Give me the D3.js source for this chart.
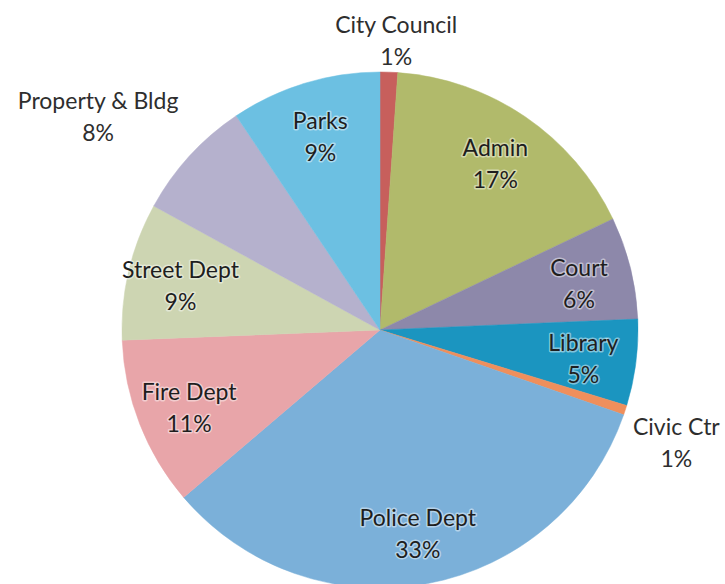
<!DOCTYPE html>
<html>
<head>
<meta charset="utf-8">
<script src="https://cdn.jsdelivr.net/npm/d3@7"></script>
<style>
html,body{margin:0;padding:0;background:#fff;}
svg{display:block;}
text{font-family:Lato,"Open Sans",sans-serif;}
</style>
</head>
<body>
<svg id="chart" width="725" height="584"></svg>
<script>
// slices clockwise from 12 o'clock (percent)
var depts=["City Council","Admin","Court","Library","Civic Ctr","Police Dept","Fire Dept","Street Dept","Property & Bldg","Parks"];
var shares=[1.1,16.8,6.4,5.4,0.6,33.4,10.6,8.6,7.6,9.4];
var colors=["#c75f5c","#b1ba6b","#8d88aa","#1b95c0","#ef8f5c","#7bb0d9","#e8a5a9","#cdd5b2","#b5b1cd","#6cc0e2"];

var W=725,H=584;
var cx=380,cy=330,R=258;
var inR=205;   //label radius for labels inside the pie
// labels Excel pushed outside the pie: radius + nudge in degrees
var outside={"City Council":{r:292,da:1.2},"Civic Ctr":{r:316,da:2.2},"Property & Bldg":{r:355,da:-5}};

var svg=d3.select("#chart");
var g=svg.append("g")
	.attr("transform","translate("+cx+","+cy+")");

var data=depts.map(function(d,i){
	return {name:d,value:shares[i],color:colors[i]};
});
var total=d3.sum(shares);

var pie=d3.pie()
	.sort(null)
	.value(function(d){return d.value;});
var arc=d3.arc().innerRadius(0).outerRadius(R);
var arcs=pie(data);

g.selectAll("path.slice")
	.data(arcs)
	.enter()
	.append("path")
	.attr("class","slice")
	.attr("d",arc)
	.attr("fill",function(d){return d.data.color;})
	.attr("stroke",function(d){return d.data.color;})
	.attr("stroke-width",0.5);

function labelPos(d){
	var a=(d.startAngle+d.endAngle)/2;
	var r=inR;
	var o=outside[d.data.name];
	if(o){
		r=o.r;
		a+=o.da*Math.PI/180;
	}
	return [r*Math.sin(a),-r*Math.cos(a)];
}

var labels=g.selectAll("g.lab")
	.data(arcs)
	.enter()
	.append("g")
	.attr("class","lab")
	.attr("transform",function(d){
		var p=labelPos(d);
		return "translate("+p[0]+","+p[1]+")";
	});

labels.each(function(d){
	var sel=d3.select(this);
	var inside=!outside[d.data.name];
	var lines=[d.data.name,Math.round(d.data.value/total*100)+"%"];
	lines.forEach(function(t,k){
		var txt=sel.append("text")
			.attr("text-anchor","middle")
			.attr("y",k==0?-5:27)
			.attr("font-size",23)
			.attr("fill",inside?"#1e1e1e":"#2e2e2e")
			.text(t);
		if(inside){
			txt.attr("stroke","rgba(255,255,255,0.45)")
				.attr("stroke-width",3)
				.attr("paint-order","stroke")
				.attr("stroke-linejoin","round");
		}
	});
});
</script>
</body>
</html>
